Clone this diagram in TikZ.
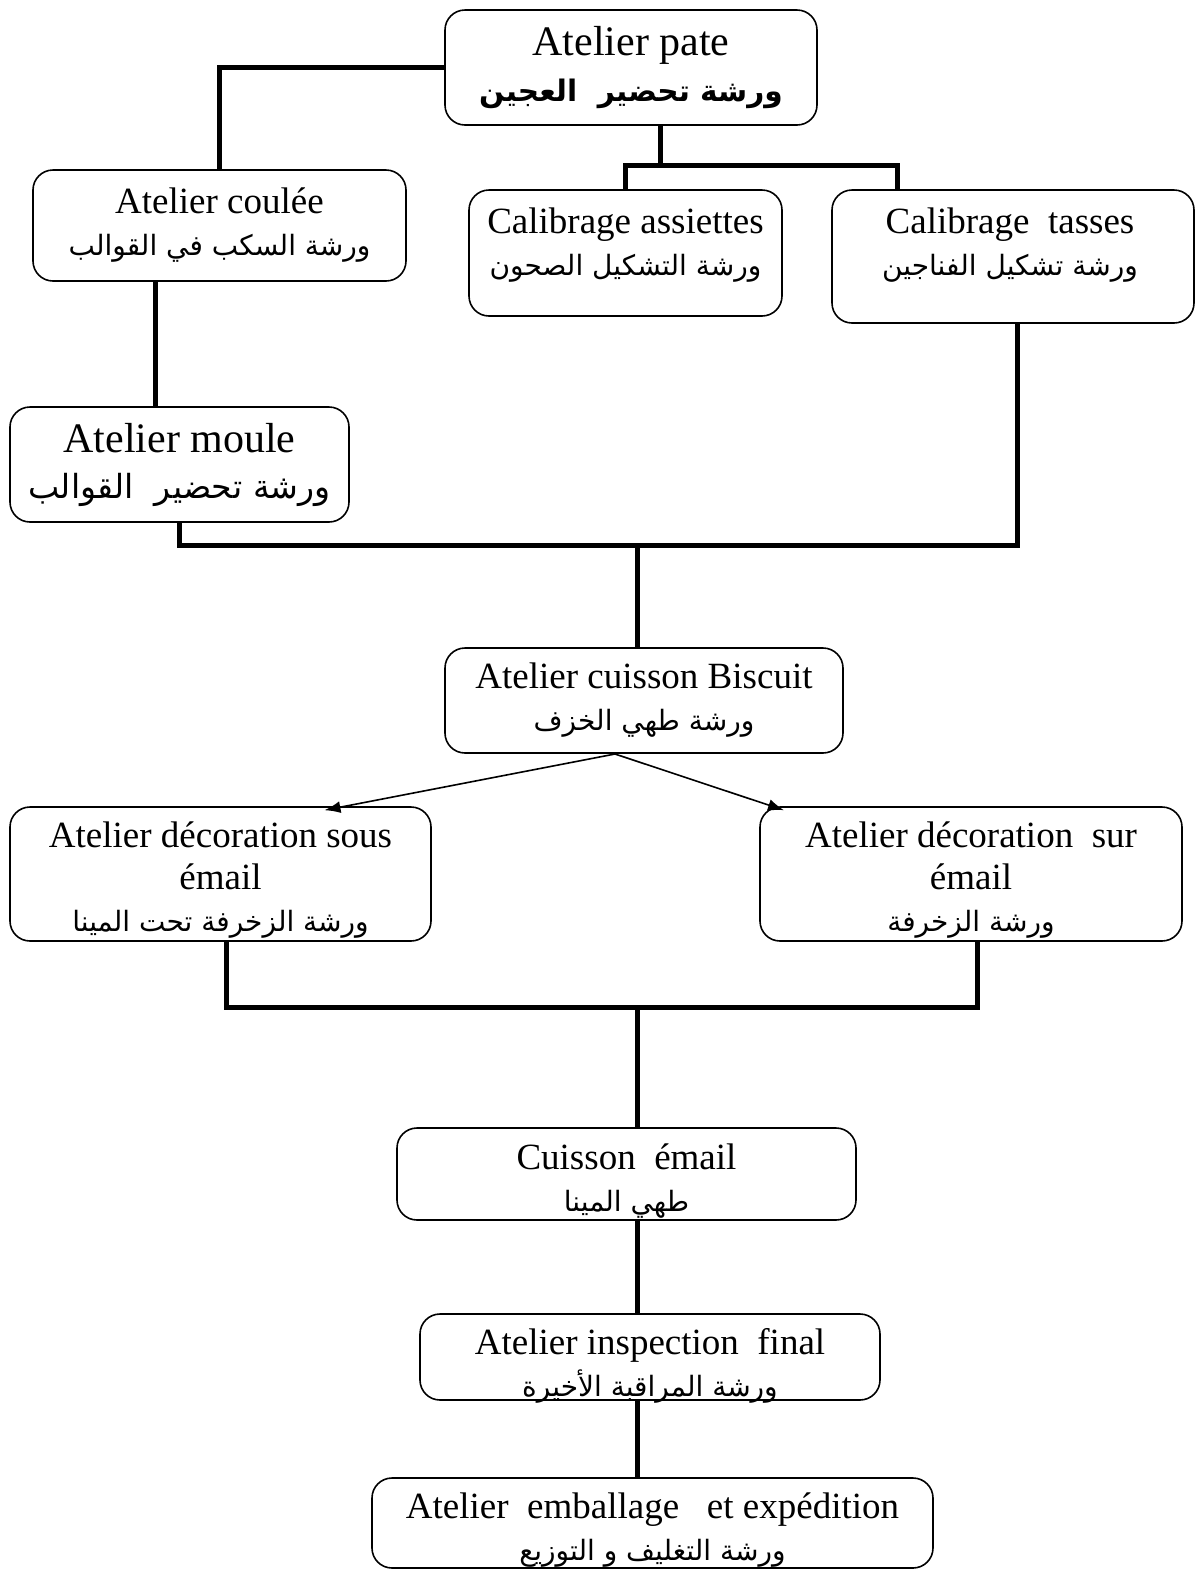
\documentclass[tikz,border=0pt]{standalone}
\usepackage{fontspec}
\setmainfont{Liberation Serif}
\newfontfamily\arabicfont[Script=Arabic]{DejaVu Sans}
\TeXXeTstate=1
\usetikzlibrary{arrows.meta}

\newcommand{\artxt}[1]{{\arabicfont\fontsize{14}{21}\selectfont\beginR #1\endR}}

\tikzset{
  box/.style={draw, rounded corners=10pt, line width=0.8pt, align=center, inner sep=0pt,
    font=\fontsize{18.5}{21}\selectfont},
  bigbox/.style={box, font=\fontsize{21}{23}\selectfont},
  lbl/.style={align=center, inner sep=0pt, font=\fontsize{18.5}{21}\selectfont},
  link/.style={line width=2.5pt},
  flow/.style={line width=0.8pt, -{Latex[length=8pt,width=6pt]}}
}

\begin{document}
\begin{tikzpicture}[x=0.5pt,y=-0.5pt]
  \useasboundingbox (0,0) rectangle (1197,1571);

  % Workshops
  \node[bigbox, minimum width=186pt, minimum height=57.5pt] (pate) at (631,67.5)
    {Atelier pate\\{\arabicfont\bfseries\fontsize{14.8}{23}\selectfont\beginR ورشة تحضير\ \ العجين\endR}};
  \node[box, minimum width=186.5pt, minimum height=55.5pt] (coulee) at (219.5,225.5)
    {Atelier coulée\\\artxt{ورشة السكب في القوالب}};
  \node[box, minimum width=156.5pt, minimum height=63pt] (ass) at (625.5,253) {};
  \node[lbl] (assT) at (625.5,245) {Calibrage assiettes\\\artxt{ورشة التشكيل الصحون}};
  \node[box, minimum width=181pt, minimum height=66.5pt] (tas) at (1013,256.5) {};
  \node[lbl] (tasT) at (1010,245) {Calibrage\ \ tasses\\\artxt{ورشة تشكيل الفناجين}};
  \node[bigbox, minimum width=169.5pt, minimum height=57.5pt] (moule) at (179.5,464.5)
    {Atelier moule\\{\arabicfont\fontsize{16.6}{25}\selectfont\beginR ورشة تحضير\ \ القوالب\endR}};
  \node[box, minimum width=199pt, minimum height=52.5pt] (bisc) at (644,700.5)
    {Atelier cuisson Biscuit\\\artxt{ورشة طهي الخزف}};
  \node[box, minimum width=210.5pt, minimum height=67pt] (sous) at (220.5,874) {};
  \node[lbl] (sousT) at (220.5,880) {Atelier décoration sous\\émail\\\artxt{ورشة الزخرفة تحت المينا}};
  \node[box, minimum width=211pt, minimum height=67pt] (sur) at (971,874) {};
  \node[lbl] (surT) at (971,880) {Atelier décoration\ \ sur\\émail\\\artxt{ورشة الزخرفة}};
  \node[box, minimum width=229.5pt, minimum height=46pt] (cuis) at (626.5,1174) {};
  \node[lbl] (cuisT) at (626.5,1181) {Cuisson\ \ émail\\\artxt{طهي المينا}};
  \node[box, minimum width=230pt, minimum height=43pt] (insp) at (650,1357) {};
  \node[lbl] (inspT) at (650,1366) {Atelier inspection\ \ final\\\artxt{ورشة المراقبة الأخيرة}};
  \node[box, minimum width=280.5pt, minimum height=45pt] (emb) at (652.5,1523) {};
  \node[lbl] (embT) at (652.5,1530) {Atelier\ \ emballage\ \ \ et expédition\\\artxt{ورشة التغليف و التوزيع}};

  % Junctions
  \coordinate (j1) at (660,165);
  \coordinate (j2) at (637,545);
  \coordinate (j3) at (637,1007);
  \coordinate (split) at (615,754);

  % Thick links
  \draw[link] (pate.west) -| (coulee.north);
  \draw[link] (pate.south -| j1) -- (j1);
  \draw[link] (ass.north) |- ([xshift=-58pt]tas.north |- j1) -- ([xshift=-58pt]tas.north);
  \draw[link] ([xshift=-32pt]coulee.south) -- ([xshift=-32pt]coulee.south |- moule.north);
  \draw[link] (moule.south) |- ([xshift=2pt]tas.south |- j2) -- ([xshift=2pt]tas.south);
  \draw[link] (j2) -- (bisc.north -| j2);
  \draw[link] ([xshift=3pt]sous.south) |- ([xshift=3pt]sur.south |- j3) -- ([xshift=3pt]sur.south);
  \draw[link] (j3) -- (cuis.north -| j3);
  \draw[link] (cuis.south -| j3) -- (insp.north -| j3);
  \draw[link] (insp.south -| j3) -- (emb.north -| j3);

  % Arrows to decoration
  \draw[flow] (split) -- ([xshift=52pt,yshift=-2pt]sous.north);
  \draw[flow] (split) -- ([xshift=-93.5pt,yshift=-2pt]sur.north);
\end{tikzpicture}
\end{document}
